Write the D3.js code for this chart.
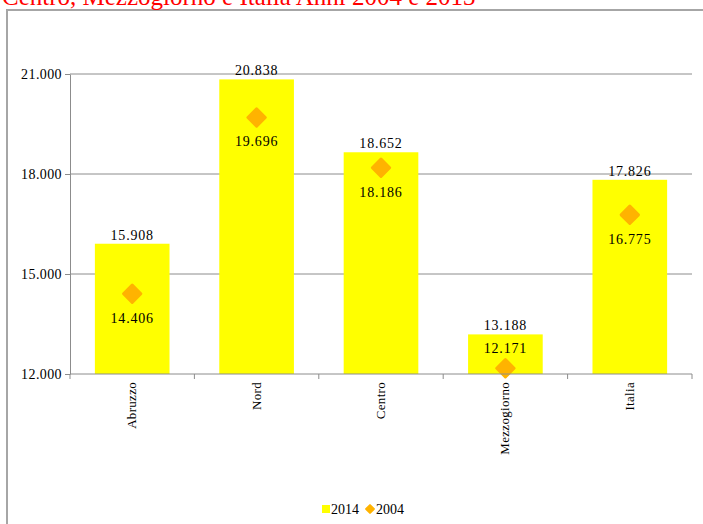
<!DOCTYPE html>
<html>
<head>
<meta charset="utf-8">
<script src="https://cdn.jsdelivr.net/npm/d3@7"></script>
<style>
  body { margin: 0; background: #fff; overflow: hidden; }
  text { font-family: "Liberation Serif", "Times New Roman", serif; }
</style>
</head>
<body>
<div id="chart"></div>
<script>
// data
let categories = ["Abruzzo", "Nord", "Centro", "Mezzogiorno", "Italia"];
let values2014 = [15908, 20838, 18652, 13188, 17826];
let values2004 = [14406, 19696, 18186, 12171, 16775];
let yTicks = [12000, 15000, 18000, 21000];
let titleText = "Centro, Mezzogiorno e Italia Anni 2004 e 2013";

function main() {
    var W = 703, H = 524;
    var margin = {top: 74, right: 11, bottom: 150, left: 70},
        width = 692 - margin.left,
        height = 374 - margin.top;

    var it = d3.formatLocale({decimal: ",", thousands: ".", grouping: [3], currency: ["€", ""]});
    var fmtInt = it.format(",.0f");

    var svg = d3.select("#chart")
        .append("svg")
        .attr("width", W)
        .attr("height", H);

    // outer frame
    svg.append("rect")
        .attr("x", 7).attr("y", 10)
        .attr("width", W + 10).attr("height", H)
        .attr("fill", "none")
        .attr("stroke", "#a6a6a6")
        .attr("stroke-width", 2);

    // title, clipped at top of page as in the original
    svg.append("text")
        .attr("x", 2).attr("y", 5)
        .attr("fill", "#ff0000")
        .style("font-size", "25px")
        .text(titleText);

    var g = svg.append("g")
        .attr("transform", "translate(" + margin.left + "," + margin.top + ")");

    var x = d3.scaleBand()
        .domain(categories)
        .range([0, width])
        .paddingInner(0.4)
        .paddingOuter(0.2);

    var y = d3.scaleLinear()
        .domain([12000, 21000])
        .range([height, 0]);

    // gridlines
    g.selectAll(".grid")
        .data(yTicks.filter(function(d) { return d > 12000; }))
        .enter()
        .append("line")
        .attr("x1", 0).attr("x2", width)
        .attr("y1", function(d) { return y(d); })
        .attr("y2", function(d) { return y(d); })
        .attr("stroke", "#8c8c8c")
        .attr("stroke-width", 1);

    // bars 2014
    g.selectAll(".bar")
        .data(categories)
        .enter()
        .append("rect")
        .attr("x", function(d) { return x(d); })
        .attr("y", function(d, i) { return y(values2014[i]); })
        .attr("width", x.bandwidth())
        .attr("height", function(d, i) { return height - y(values2014[i]); })
        .attr("fill", "#ffff00");

    // labels 2014
    g.selectAll(".lab14")
        .data(categories)
        .enter()
        .append("text")
        .attr("x", function(d) { return x(d) + x.bandwidth() / 2; })
        .attr("y", function(d, i) { return y(values2014[i]) - 4; })
        .attr("text-anchor", "middle")
        .style("font-size", "14px")
        .style("letter-spacing", "0.8px")
        .text(function(d, i) { return fmtInt(values2014[i]); });

    // diamonds 2004
    g.selectAll(".dia")
        .data(categories)
        .enter()
        .append("path")
        .attr("d", d3.symbol().type(d3.symbolSquare).size(150))
        .attr("transform", function(d, i) {
            return "translate(" + (x(d) + x.bandwidth() / 2) + "," + y(values2004[i]) + ") rotate(45)";
        })
        .attr("fill", "#ffb300")
        .attr("stroke", "#ffb300")
        .attr("stroke-linejoin", "round")
        .attr("stroke-width", 3);

    // labels 2004 (below the marker, above it when too close to the axis)
    g.selectAll(".lab04")
        .data(categories)
        .enter()
        .append("text")
        .attr("x", function(d) { return x(d) + x.bandwidth() / 2; })
        .attr("y", function(d, i) {
            var yy = y(values2004[i]);
            return (yy + 28 > height) ? yy - 15 : yy + 29;
        })
        .attr("text-anchor", "middle")
        .style("font-size", "14px")
        .style("letter-spacing", "0.8px")
        .text(function(d, i) { return fmtInt(values2004[i]); });

    // y axis
    var yAxis = g.append("g")
        .call(d3.axisLeft(y).tickValues(yTicks).tickSize(5).tickSizeOuter(0).tickFormat(fmtInt));
    yAxis.select(".domain").attr("stroke", "#8c8c8c");
    yAxis.selectAll(".tick line").attr("stroke", "#8c8c8c");
    yAxis.selectAll("text")
        .attr("x", -8)
        .style("font-family", "Liberation Serif, serif")
        .style("font-size", "14px")
        .style("letter-spacing", "0.4px")
        .attr("fill", "#000");

    // x axis
    var xAxis = g.append("g")
        .attr("transform", "translate(0," + height + ")");
    xAxis.append("line")
        .attr("x1", 0).attr("x2", width)
        .attr("stroke", "#8c8c8c");
    var step = x.step();
    xAxis.selectAll(".xt")
        .data(d3.range(categories.length + 1))
        .enter()
        .append("line")
        .attr("x1", function(i) { return step * i; })
        .attr("x2", function(i) { return step * i; })
        .attr("y1", 0).attr("y2", 5)
        .attr("stroke", "#8c8c8c");
    xAxis.selectAll(".xl")
        .data(categories)
        .enter()
        .append("text")
        .attr("transform", function(d) {
            return "translate(" + (x(d) + x.bandwidth() / 2 + 4) + ",8) rotate(-90)";
        })
        .attr("text-anchor", "end")
        .style("font-size", "13px")
        .style("letter-spacing", "0.3px")
        .text(function(d) { return d; });

    // legend
    var lg = svg.append("g").attr("transform", "translate(322,505)");
    lg.append("rect").attr("width", 8).attr("height", 8).attr("fill", "#ffff00");
    lg.append("text").attr("x", 9).attr("y", 8.5).style("font-size", "14px").text("2014");
    lg.append("path")
        .attr("d", d3.symbol().type(d3.symbolSquare).size(30))
        .attr("transform", "translate(48,4) rotate(45)")
        .attr("fill", "#ffb300")
        .attr("stroke", "#ffb300")
        .attr("stroke-linejoin", "round")
        .attr("stroke-width", 2);
    lg.append("text").attr("x", 54).attr("y", 8.5).style("font-size", "14px").text("2004");
}

main();
</script>
</body>
</html>
